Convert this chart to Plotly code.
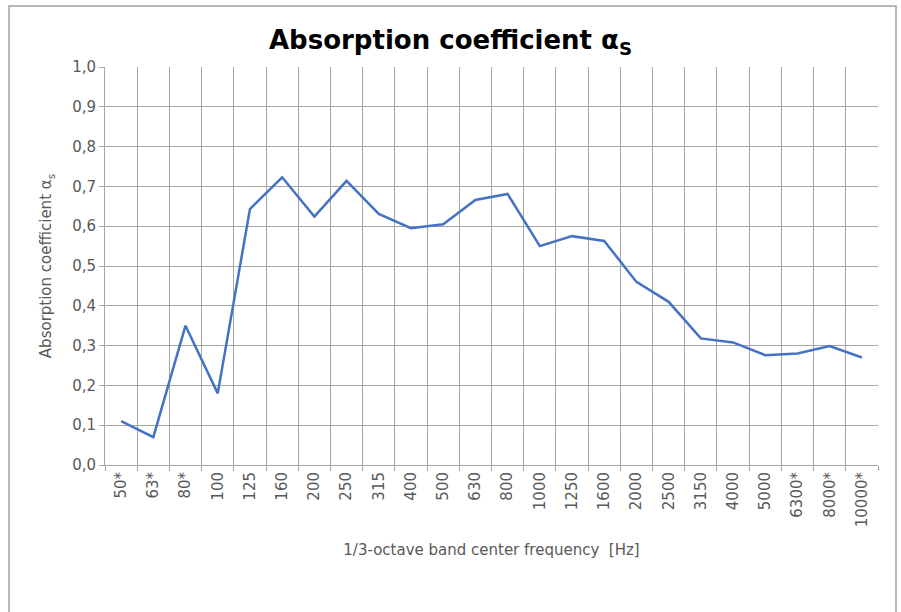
import plotly.graph_objects as go

freqs = ["50*", "63*", "80*", "100", "125", "160", "200", "250", "315", "400", "500",
         "630", "800", "1000", "1250", "1600", "2000", "2500", "3150", "4000", "5000",
         "6300*", "8000*", "10000*"]
alpha_s = [0.11, 0.07, 0.35, 0.18, 0.643, 0.723, 0.624, 0.714, 0.631, 0.595, 0.605,
           0.666, 0.681, 0.550, 0.575, 0.563, 0.460, 0.410, 0.318, 0.308, 0.276,
           0.280, 0.299, 0.270]
y_tick_vals = [0.0, 0.1, 0.2, 0.3, 0.4, 0.5, 0.6, 0.7, 0.8, 0.9, 1.0]
y_tick_text = ["0,0", "0,1", "0,2", "0,3", "0,4", "0,5", "0,6", "0,7", "0,8", "0,9", "1,0"]

FONT = "'DejaVu Sans', Lato, sans-serif"
GRID = "#a6a6a6"
TXT = "#595959"

fig = go.Figure()
fig.add_trace(go.Scatter(x=freqs, y=alpha_s, mode="lines",
                         line=dict(color="#4472C4", width=2.5), showlegend=False))

W, H = 901, 612
L, R, T, B = 105, 878, 67, 465
fig.update_layout(
    width=W, height=H,
    margin=dict(l=L, r=W - R, t=T, b=H - B, autoexpand=False),
    paper_bgcolor="white", plot_bgcolor="white",
    font=dict(family=FONT, color=TXT, size=15),
    title=dict(text="<b>Absorption coefficient α<sub>S</sub></b>", x=0.5, xref="container",
               y=1 - 40 / H, yref="container", xanchor="center", yanchor="middle",
               font=dict(family=FONT, size=26, color="black")),
    xaxis=dict(type="category", tickson="boundaries", showgrid=True, gridcolor=GRID,
               gridwidth=1, ticks="outside", ticklen=5, tickcolor=GRID, tickangle=-90,
               showline=True, linecolor=GRID, linewidth=1, automargin=False,
               tickfont=dict(family=FONT, size=15, color=TXT),
               title=dict(text="1/3-octave band center frequency  [Hz]", standoff=18,
                          font=dict(family=FONT, size=15, color=TXT)),
               range=[-0.5, len(freqs) - 0.5]),
    yaxis=dict(range=[0, 1.0], tickvals=y_tick_vals, ticktext=y_tick_text,
               showgrid=True, gridcolor=GRID, gridwidth=1, ticks="outside", ticklen=5,
               tickcolor=GRID, showline=True, linecolor=GRID, linewidth=1, mirror=False,
               zeroline=False, automargin=False,
               tickfont=dict(family=FONT, size=15, color=TXT),
               title=dict(text="Absorption coefficient α<sub>s</sub>", standoff=16,
                          font=dict(family=FONT, size=15, color=TXT))),
)

# outer chart frame
pw, ph = R - L, B - T
fig.add_shape(type="rect", xref="paper", yref="paper",
              x0=(9 - L) / pw, x1=(896 - L) / pw,
              y0=(B - 640) / ph, y1=(B - 6) / ph,
              line=dict(color="#a0a0a0", width=1.5), fillcolor="rgba(0,0,0,0)", layer="below")

fig.write_html("out.html", config={"displayModeBar": False},
               post_script="document.body.style.margin='0';document.body.style.padding='0';")
